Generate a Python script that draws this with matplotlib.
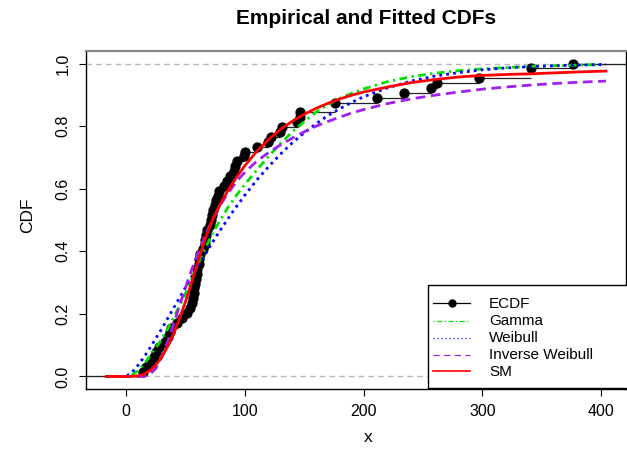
import matplotlib
matplotlib.use("Agg")
import matplotlib.pyplot as plt
from matplotlib.lines import Line2D
from matplotlib.patches import Rectangle
import numpy as np

plt.rcParams['font.family'] = ['Liberation Sans', 'DejaVu Sans']

# ---------------- data ----------------
sample = [14, 17, 20, 23, 25, 28, 33, 35, 37, 38, 43, 47, 51, 54, 55,
          56, 57, 57.5, 58, 59, 59.5, 60, 61, 61.5, 62.3, 65, 66, 66.5, 67, 68,
          70.5, 71, 72, 73, 74.5, 76, 77, 78, 82, 85, 87.5, 90.5, 92, 93.5, 98.8,
          100.2, 110, 119.8, 122, 129.7, 131, 143.7, 146, 146.5, 175.4, 175.4,
          211, 233.5, 257, 261.6, 296.7, 341, 341, 376]

curve_x = [-16.8, 0, 5, 10, 15, 20, 25, 30, 35, 40, 45, 50, 55, 60, 65, 70, 75, 80,
           85, 90, 95, 100, 110, 120, 130, 140, 150, 160, 170, 180, 190, 200, 220,
           240, 260, 280, 300, 320, 340, 360, 380, 404]
gamma_cdf = [0, 0, 0.005, 0.019, 0.040, 0.066, 0.092, 0.120, 0.152, 0.190, 0.226,
             0.266, 0.310, 0.355, 0.397, 0.436, 0.472, 0.505, 0.536, 0.564, 0.590,
             0.614, 0.660, 0.704, 0.745, 0.782, 0.815, 0.845, 0.869, 0.889, 0.905,
             0.919, 0.942, 0.958, 0.969, 0.977, 0.983, 0.987, 0.991, 0.993, 0.995, 0.997]
weibull_cdf = [0, 0, 0.014, 0.036, 0.062, 0.091, 0.122, 0.153, 0.186, 0.219, 0.252,
               0.285, 0.318, 0.350, 0.381, 0.412, 0.443, 0.472, 0.500, 0.528, 0.554,
               0.580, 0.628, 0.671, 0.711, 0.747, 0.779, 0.808, 0.834, 0.856, 0.876,
               0.894, 0.922, 0.944, 0.960, 0.971, 0.980, 0.986, 0.990, 0.993, 0.995, 0.997]
invweibull_cdf = [0, 0, 0, 0, 0.0005, 0.007, 0.026, 0.063, 0.112, 0.168, 0.228,
                  0.285, 0.340, 0.390, 0.437, 0.480, 0.518, 0.552, 0.582, 0.608, 0.632,
                  0.653, 0.688, 0.716, 0.740, 0.762, 0.782, 0.800, 0.815, 0.829, 0.842,
                  0.853, 0.872, 0.887, 0.899, 0.909, 0.918, 0.925, 0.931, 0.936, 0.940, 0.944]
sm_cdf = [0, 0, 0.0005, 0.002, 0.008, 0.019, 0.037, 0.062, 0.097, 0.138, 0.186,
          0.240, 0.300, 0.362, 0.422, 0.476, 0.520, 0.557, 0.590, 0.620, 0.648,
          0.674, 0.720, 0.758, 0.790, 0.816, 0.838, 0.857, 0.873, 0.887, 0.899,
          0.909, 0.925, 0.939, 0.949, 0.957, 0.962, 0.965, 0.967, 0.970, 0.973, 0.976]

x_ticks = [0, 100, 200, 300, 400]
y_ticks = [0.0, 0.2, 0.4, 0.6, 0.8, 1.0]
labels = ["ECDF", "Gamma", "Weibull", "Inverse Weibull", "SM"]

col_gamma = '#00e000'
col_weib = '#0000ff'
col_inv = '#a020f0'
col_sm = '#ff0000'

# ---------------- figure ----------------
W, H = 627, 455
fig = plt.figure(figsize=(W / 100, H / 100), dpi=100)
ax = fig.add_axes([86 / W, 1 - 389 / H, 540 / W, 338 / H])
xlim = (-33.84, 420.84)
ax.set_xlim(*xlim)
ax.set_ylim(-0.04, 1.04)

# reference lines
for yy in (0, 1):
    ax.axhline(yy, color='#b8b8b8', lw=1.0, dashes=(4, 3), zorder=1)

# ECDF
xs = np.sort(np.array(sample, dtype=float))
n = len(xs)
ux = np.unique(xs)
uy = np.array([np.sum(xs <= v) / n for v in ux])
edges = np.concatenate([[xlim[0]], ux, [xlim[1]]])
levels = np.concatenate([[0.0], uy])
ax.hlines(levels, edges[:-1], edges[1:], colors='#222222', lw=0.9, zorder=2)
ax.plot(ux, uy, 'o', color='black', ms=6.4, zorder=2.5)

# fitted curves
ax.plot(curve_x, gamma_cdf, color=col_gamma, lw=2, dashes=(0.8, 1.6, 2.8, 1.6), zorder=3)
ax.plot(curve_x, weibull_cdf, color=col_weib, lw=2, dashes=(1, 1.5), zorder=3)
ax.plot(curve_x, invweibull_cdf, color=col_inv, lw=2, dashes=(3.5, 2), zorder=3)
ax.plot(curve_x, sm_cdf, color=col_sm, lw=2, zorder=3.5)

# axes styling
ax.spines['left'].set_color('black')
ax.spines['bottom'].set_color('black')
ax.spines['left'].set_linewidth(1)
ax.spines['bottom'].set_linewidth(1)
ax.spines['top'].set_color('#888888')
ax.spines['top'].set_linewidth(1.6)
ax.spines['right'].set_color('black')
ax.spines['right'].set_linewidth(1)

ax.set_xticks(x_ticks)
ax.set_xticklabels([str(v) for v in x_ticks])
ax.set_yticks(y_ticks)
ax.set_yticklabels([f"{v:.1f}" for v in y_ticks])
ax.tick_params(axis='both', direction='out', length=5, width=0.8, labelsize=11.5, color='black')
ax.tick_params(axis='x', pad=6)
ax.tick_params(axis='y', pad=6, labelrotation=90)
for lab in ax.get_yticklabels():
    lab.set_va('center')

fig.text(366 / W, 1 - 18 / H, "Empirical and Fitted CDFs", ha='center', va='center',
         fontsize=15, fontweight='bold')
fig.text(368 / W, 1 - 438 / H, "x", ha='center', va='center', fontsize=12.5)
fig.text(28 / W, 1 - 215 / H, "CDF", ha='center', va='center', fontsize=12.5, rotation=90)

# legend (manual, box runs past the right edge)
tf = fig.transFigure
fig.add_artist(Rectangle((428 / W, 1 - 388 / H), 260 / W, 103 / H, transform=tf,
                         facecolor='white', edgecolor='black', lw=1, zorder=5))
rows = [303, 320.5, 337.5, 354.5, 371]
styles = [
    dict(color='black', lw=0.9),
    dict(color=col_gamma, lw=0.9, dashes=(1, 2, 4, 2)),
    dict(color=col_weib, lw=0.9, dashes=(1, 2.2)),
    dict(color=col_inv, lw=0.9, dashes=(5, 3.5)),
    dict(color=col_sm, lw=1.2),
]
for r, st, lab in zip(rows, styles, labels):
    yy = 1 - r / H
    fig.add_artist(Line2D([433 / W, 470 / W], [yy, yy], transform=tf, zorder=6, **st))
    fig.text(489 / W, 1 - (r + 0.5) / H, lab, ha='left', va='center', fontsize=11, zorder=6)
fig.add_artist(Line2D([451.5 / W], [1 - rows[0] / H], transform=tf, marker='o', ms=5,
                      color='black', lw=0, zorder=6))

fig.savefig("out.png", dpi=100)
